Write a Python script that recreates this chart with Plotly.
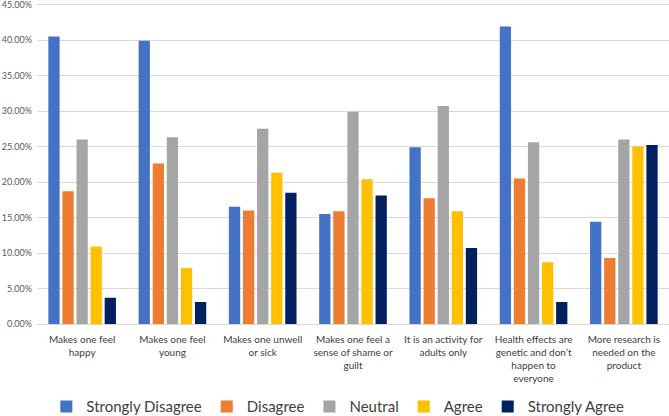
import plotly.graph_objects as go

categories = [
    "Makes one feel<br>happy",
    "Makes one feel<br>young",
    "Makes one unwell<br>or sick",
    "Makes one feel a<br>sense of shame or<br>guilt",
    "It is an activity for<br>adults only",
    "Health effects are<br>genetic and don’t<br>happen to<br>everyone",
    "More research is<br>needed on the<br>product",
]
strongly_disagree = [0.405, 0.399, 0.165, 0.155, 0.249, 0.419, 0.144]
disagree = [0.187, 0.226, 0.160, 0.159, 0.177, 0.205, 0.093]
neutral = [0.260, 0.263, 0.275, 0.299, 0.307, 0.256, 0.260]
agree = [0.109, 0.079, 0.213, 0.204, 0.159, 0.087, 0.250]
strongly_agree = [0.037, 0.031, 0.185, 0.181, 0.107, 0.031, 0.252]
y_ticks = [0.0, 0.05, 0.10, 0.15, 0.20, 0.25, 0.30, 0.35, 0.40, 0.45]

series = [
    ("Strongly Disagree", strongly_disagree, "#4472C4"),
    ("Disagree", disagree, "#ED7D31"),
    ("Neutral", neutral, "#A5A5A5"),
    ("Agree", agree, "#FFC000"),
    ("Strongly Agree", strongly_agree, "#002060"),
]

fig = go.Figure()
for name, vals, color in series:
    fig.add_trace(go.Bar(x=categories, y=vals, name=name, marker_color=color,
                         marker_line_width=0))

fig.update_layout(
    width=669, height=416,
    margin=dict(l=37, r=0, t=1, b=92, autoexpand=False),
    paper_bgcolor="white", plot_bgcolor="white",
    font=dict(family="Lato, Open Sans, sans-serif", color="#404040"),
    barmode="group", bargap=0.22, bargroupgap=0.2,
    legend=dict(orientation="h", xref="container", yref="container",
                x=0.505, xanchor="center", y=0.022, yanchor="middle",
                font=dict(size=15, color="#404040"), itemwidth=30,
                traceorder="normal"),
    showlegend=True,
)
fig.update_yaxes(range=[0, 0.455], tickvals=y_ticks,
                 tickformat=".2%", ticklabeloverflow="allow",
                 showgrid=True, gridcolor="#D9D9D9", gridwidth=1,
                 zeroline=False, tickfont=dict(size=9, color="#595959"),
                 ticks="", ticklabelstandoff=4)
fig.update_xaxes(showline=True, linecolor="#D9D9D9", linewidth=1,
                 tickfont=dict(size=10, color="#404040"), ticks="",
                 tickangle=0, ticklabelstandoff=6)

fig.write_html("out.html")
